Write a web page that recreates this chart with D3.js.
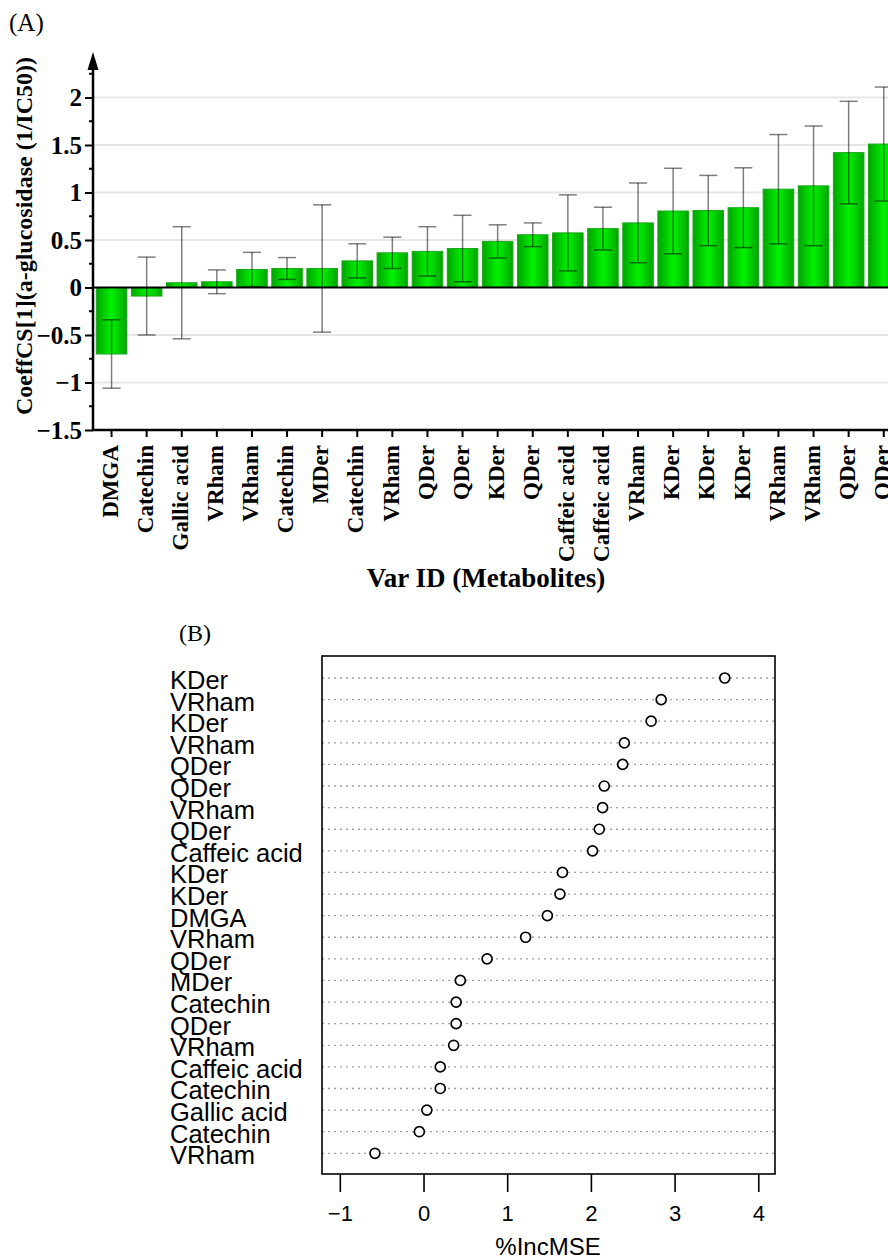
<!DOCTYPE html>
<html>
<head>
<meta charset="utf-8">
<script src="https://cdn.jsdelivr.net/npm/d3@7"></script>
<style>
  body { margin: 0; background: #fff; }
  svg { display: block; }
  .serif { font-family: "Liberation Serif", "Times New Roman", serif; }
  .sans { font-family: "Liberation Sans", Arial, sans-serif; }
</style>
</head>
<body>
<div id="chart"></div>
<script>
// panel A: coefficient bars
const barLabels = ["DMGA", "Catechin", "Gallic acid", "VRham", "VRham", "Catechin", "MDer", "Catechin",
  "VRham", "QDer", "QDer", "KDer", "QDer", "Caffeic acid", "Caffeic acid", "VRham", "KDer", "KDer",
  "KDer", "VRham", "VRham", "QDer", "QDer"];
const barValues = [-0.70, -0.09, 0.05, 0.06, 0.19, 0.20, 0.20, 0.28, 0.365, 0.38, 0.41, 0.485, 0.555,
  0.575, 0.62, 0.68, 0.805, 0.81, 0.84, 1.035, 1.07, 1.42, 1.51];
const barErrors = [0.36, 0.41, 0.59, 0.125, 0.18, 0.115, 0.67, 0.18, 0.165, 0.26, 0.35, 0.175, 0.125,
  0.40, 0.225, 0.42, 0.45, 0.37, 0.42, 0.575, 0.63, 0.54, 0.60];
const yTicksA = [-1.5, -1, -0.5, 0, 0.5, 1, 1.5, 2];
const yMinorA = [-1.25, -0.75, -0.25, 0.25, 0.75, 1.25, 1.75, 2.25];

// panel B: %IncMSE dot chart (top to bottom)
const dotLabels = ["KDer", "VRham", "KDer", "VRham", "QDer", "QDer", "VRham", "QDer", "Caffeic acid",
  "KDer", "KDer", "DMGA", "VRham", "QDer", "MDer", "Catechin", "QDer", "VRham", "Caffeic acid",
  "Catechin", "Gallic acid", "Catechin", "VRham"];
const dotValues = [3.60, 2.84, 2.72, 2.40, 2.38, 2.16, 2.14, 2.10, 2.02, 1.66, 1.63, 1.48, 1.22, 0.76,
  0.44, 0.39, 0.39, 0.36, 0.20, 0.20, 0.04, -0.05, -0.58];
const xTicksB = [-1, 0, 1, 2, 3, 4];

const W = 888, H = 1260;
const svg = d3.select("#chart").append("svg")
  .attr("width", W).attr("height", H)
  .style("background", "#fff");

// ---------- (A) ----------
const A = {left: 93, top: 52, bottom: 430, right: W};

const x = d3.scaleBand()
  .domain(d3.range(barLabels.length))
  .range([94, 94 + 35.1 * barLabels.length])
  .paddingInner(0.13).paddingOuter(0.065);

const y = d3.scaleLinear().domain([-1.5, 2]).range([A.bottom, A.bottom - 3.5 * 95]);

const grad = svg.append("defs").append("linearGradient")
  .attr("id", "barGrad").attr("x1", "0%").attr("x2", "100%").attr("y1", "0%").attr("y2", "0%");
grad.append("stop").attr("offset", "0%").attr("stop-color", "#00a400");
grad.append("stop").attr("offset", "50%").attr("stop-color", "#00f200");
grad.append("stop").attr("offset", "100%").attr("stop-color", "#00a400");

svg.append("text").attr("class", "serif")
  .attr("x", 9).attr("y", 31)
  .style("font-size", "25px")
  .text("(A)");

// grid
svg.append("g").selectAll("line")
  .data(yTicksA.filter(d => d !== 0 && d !== -1.5))
  .join("line")
  .attr("x1", A.left).attr("x2", A.right)
  .attr("y1", d => y(d)).attr("y2", d => y(d))
  .attr("stroke", "#e6e6e6").attr("stroke-width", 2);

// bars
svg.append("g").selectAll("rect")
  .data(barValues)
  .join("rect")
  .attr("x", (d, i) => x(i))
  .attr("width", x.bandwidth())
  .attr("y", d => y(Math.max(0, d)))
  .attr("height", d => Math.abs(y(d) - y(0)))
  .attr("fill", "url(#barGrad)")
  .attr("stroke", "#1aa81a").attr("stroke-width", 1);

// zero line
svg.append("line")
  .attr("x1", A.left).attr("x2", A.right)
  .attr("y1", y(0)).attr("y2", y(0))
  .attr("stroke", "#000").attr("stroke-width", 2);

// error bars
const err = svg.append("g")
  .attr("stroke", "#000").attr("stroke-opacity", 0.5).attr("stroke-width", 1.5);
barValues.forEach((v, i) => {
  const cx = x(i) + x.bandwidth() / 2;
  const hi = y(v + barErrors[i]), lo = y(v - barErrors[i]);
  err.append("line").attr("x1", cx).attr("x2", cx).attr("y1", hi).attr("y2", lo);
  err.append("line").attr("x1", cx - 9).attr("x2", cx + 9).attr("y1", hi).attr("y2", hi);
  err.append("line").attr("x1", cx - 9).attr("x2", cx + 9).attr("y1", lo).attr("y2", lo);
});

// y axis
const yAxis = svg.append("g")
  .attr("transform", `translate(${A.left},0)`)
  .call(d3.axisLeft(y).tickValues(yTicksA).tickSize(8).tickPadding(3).tickFormat(d3.format("")));
yAxis.select(".domain").remove();
yAxis.selectAll(".tick line").attr("stroke-width", 2);
yAxis.selectAll(".tick text")
  .attr("class", "serif")
  .style("font-size", "25px").style("font-weight", "bold")
  .attr("dy", "0.33em");

svg.append("g").selectAll("line")
  .data(yMinorA)
  .join("line")
  .attr("x1", A.left - 4).attr("x2", A.left)
  .attr("y1", d => y(d)).attr("y2", d => y(d))
  .attr("stroke", "#000").attr("stroke-width", 2);

svg.append("line")
  .attr("x1", A.left).attr("x2", A.left)
  .attr("y1", A.bottom + 1).attr("y2", 68)
  .attr("stroke", "#000").attr("stroke-width", 2.5);
svg.append("path")
  .attr("d", `M${A.left - 5.5},${70} L${A.left},${A.top} L${A.left + 5.5},${70} Z`)
  .attr("fill", "#000");

// x axis
const xAxis = svg.append("g")
  .attr("transform", `translate(0,${A.bottom})`)
  .call(d3.axisBottom(x).tickSize(7).tickSizeOuter(0).tickFormat(i => barLabels[i]));
xAxis.select(".domain").remove();
xAxis.selectAll(".tick line").attr("stroke-width", 2);
xAxis.selectAll(".tick text")
  .attr("class", "serif")
  .style("font-size", "23px").style("font-weight", "bold")
  .style("text-anchor", "end")
  .attr("transform", "rotate(-90)")
  .attr("x", -15).attr("y", 0).attr("dy", "0.27em");

svg.append("line")
  .attr("x1", A.left - 1).attr("x2", A.right)
  .attr("y1", A.bottom).attr("y2", A.bottom)
  .attr("stroke", "#000").attr("stroke-width", 2.5);

svg.append("text").attr("class", "serif")
  .attr("transform", "translate(32,236) rotate(-90)")
  .attr("text-anchor", "middle")
  .style("font-size", "24px").style("font-weight", "bold")
  .text("CoeffCS[1](a-glucosidase (1/IC50))");

svg.append("text").attr("class", "serif")
  .attr("x", 486).attr("y", 587)
  .attr("text-anchor", "middle")
  .style("font-size", "27px").style("font-weight", "bold")
  .text("Var ID (Metabolites)");

// ---------- (B) ----------
const B = {left: 322, right: 775, top: 656, bottom: 1174};

const xb = d3.scaleLinear().domain([-1.213, 4.2]).range([B.left, B.right]);
const yb = d3.scalePoint().domain(d3.range(dotLabels.length)).range([678, 1153.3]);

svg.append("text").attr("class", "serif")
  .attr("x", 179).attr("y", 641)
  .style("font-size", "24px")
  .text("(B)");

svg.append("g").selectAll("line")
  .data(dotValues)
  .join("line")
  .attr("x1", B.left).attr("x2", B.right)
  .attr("y1", (d, i) => yb(i)).attr("y2", (d, i) => yb(i))
  .attr("stroke", "#a0a0a0").attr("stroke-width", 1.3)
  .attr("stroke-dasharray", "2,4");

svg.append("rect")
  .attr("x", B.left).attr("y", B.top)
  .attr("width", B.right - B.left).attr("height", B.bottom - B.top)
  .attr("fill", "none").attr("stroke", "#000").attr("stroke-width", 1.6);

svg.append("g").selectAll("circle")
  .data(dotValues)
  .join("circle")
  .attr("cx", d => xb(d))
  .attr("cy", (d, i) => yb(i))
  .attr("r", 5)
  .attr("fill", "#fff").attr("stroke", "#000").attr("stroke-width", 1.7);

svg.append("g").selectAll("text")
  .data(dotLabels)
  .join("text")
  .attr("class", "sans")
  .attr("x", 170)
  .attr("y", (d, i) => yb(i))
  .attr("dy", "0.43em")
  .style("font-size", "25.5px")
  .text(d => d);

const xbAxis = svg.append("g")
  .attr("transform", `translate(0,${B.bottom})`)
  .call(d3.axisBottom(xb).tickValues(xTicksB).tickSize(18).tickPadding(13).tickFormat(d3.format("")));
xbAxis.select(".domain").remove();
xbAxis.selectAll(".tick line").attr("stroke-width", 1.6);
xbAxis.selectAll(".tick text")
  .attr("class", "sans")
  .style("font-size", "22px");

svg.append("text").attr("class", "sans")
  .attr("x", 548).attr("y", 1255)
  .attr("text-anchor", "middle")
  .style("font-size", "24px")
  .text("%IncMSE");
</script>
</body>
</html>
